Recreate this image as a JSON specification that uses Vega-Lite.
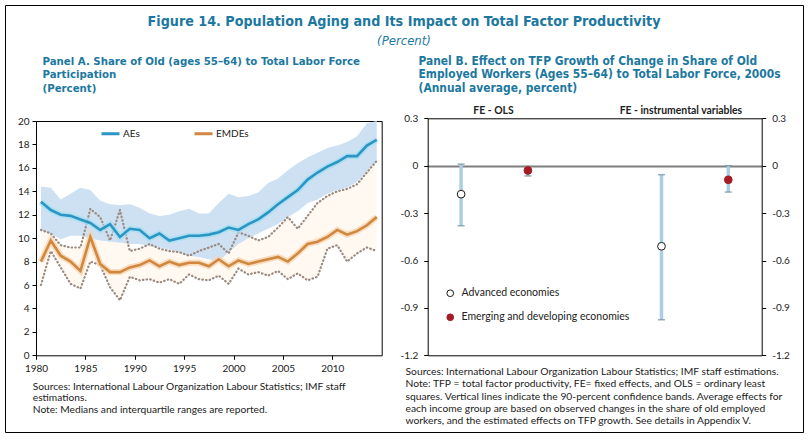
{
  "$schema": "https://vega.github.io/schema/vega-lite/v6.json",
  "width": 798,
  "height": 427,
  "autosize": {"type": "none"},
  "padding": {"left": 5, "top": 5, "right": 6, "bottom": 9},
  "background": "white",
  "config": {
    "view": {"stroke": "#000000", "strokeWidth": 1},
    "axis": {"labelFont": "Lato", "titleFont": "Lato"},
    "legend": {"labelFont": "Lato"}
  },
  "title": {
    "text": "Figure 14. Population Aging and Its Impact on Total Factor Productivity",
    "subtitle": "(Percent)",
    "anchor": "middle",
    "frame": "group",
    "offset": -42.5,
    "font": "DejaVu Sans Condensed, Roboto, sans-serif",
    "fontSize": 14.2,
    "fontWeight": "bold",
    "color": "#1c789f",
    "subtitleFont": "DejaVu Sans Condensed, Roboto, sans-serif",
    "subtitleFontSize": 13,
    "subtitleFontStyle": "italic",
    "subtitleColor": "#1c789f",
    "subtitlePadding": 5.5
  },
  "datasets": {
    "panelA": [
      {"year": 1980, "AEs": 13.1, "AE_p25": 10.7, "AE_p75": 14.4, "EMDEs": 8.0, "EM_p25": 6.0, "EM_p75": 10.7},
      {"year": 1981, "AEs": 12.4, "AE_p25": 10.4, "AE_p75": 14.3, "EMDEs": 9.8, "EM_p25": 8.9, "EM_p75": 10.4},
      {"year": 1982, "AEs": 12.0, "AE_p25": 9.9, "AE_p75": 13.3, "EMDEs": 8.5, "EM_p25": 7.5, "EM_p75": 9.4},
      {"year": 1983, "AEs": 11.9, "AE_p25": 10.2, "AE_p75": 13.8, "EMDEs": 8.0, "EM_p25": 6.1, "EM_p75": 9.2},
      {"year": 1984, "AEs": 11.6, "AE_p25": 10.2, "AE_p75": 14.3, "EMDEs": 7.2, "EM_p25": 5.7, "EM_p75": 9.2},
      {"year": 1985, "AEs": 11.3, "AE_p25": 10.0, "AE_p75": 14.1, "EMDEs": 10.1, "EM_p25": 8.0, "EM_p75": 12.5},
      {"year": 1986, "AEs": 10.7, "AE_p25": 9.8, "AE_p75": 13.2, "EMDEs": 7.8, "EM_p25": 7.7, "EM_p75": 11.8},
      {"year": 1987, "AEs": 11.2, "AE_p25": 9.7, "AE_p75": 12.9, "EMDEs": 7.1, "EM_p25": 5.8, "EM_p75": 9.8},
      {"year": 1988, "AEs": 10.1, "AE_p25": 9.6, "AE_p75": 12.8, "EMDEs": 7.1, "EM_p25": 4.7, "EM_p75": 12.4},
      {"year": 1989, "AEs": 10.8, "AE_p25": 9.5, "AE_p75": 12.9, "EMDEs": 7.5, "EM_p25": 6.7, "EM_p75": 8.9},
      {"year": 1990, "AEs": 10.7, "AE_p25": 9.5, "AE_p75": 12.6, "EMDEs": 7.7, "EM_p25": 6.4, "EM_p75": 9.1},
      {"year": 1991, "AEs": 10.0, "AE_p25": 9.3, "AE_p75": 12.1, "EMDEs": 8.1, "EM_p25": 6.5, "EM_p75": 9.5},
      {"year": 1992, "AEs": 10.4, "AE_p25": 9.2, "AE_p75": 11.9, "EMDEs": 7.6, "EM_p25": 6.2, "EM_p75": 9.1},
      {"year": 1993, "AEs": 9.8, "AE_p25": 9.0, "AE_p75": 12.0, "EMDEs": 8.0, "EM_p25": 6.5, "EM_p75": 8.9},
      {"year": 1994, "AEs": 10.0, "AE_p25": 8.8, "AE_p75": 12.3, "EMDEs": 7.7, "EM_p25": 6.1, "EM_p75": 8.8},
      {"year": 1995, "AEs": 10.2, "AE_p25": 8.5, "AE_p75": 12.5, "EMDEs": 7.9, "EM_p25": 6.9, "EM_p75": 8.5},
      {"year": 1996, "AEs": 10.2, "AE_p25": 8.4, "AE_p75": 12.1, "EMDEs": 7.9, "EM_p25": 6.5, "EM_p75": 8.9},
      {"year": 1997, "AEs": 10.3, "AE_p25": 8.2, "AE_p75": 12.1, "EMDEs": 7.6, "EM_p25": 6.4, "EM_p75": 9.2},
      {"year": 1998, "AEs": 10.5, "AE_p25": 8.0, "AE_p75": 13.0, "EMDEs": 8.2, "EM_p25": 6.8, "EM_p75": 9.5},
      {"year": 1999, "AEs": 10.9, "AE_p25": 8.8, "AE_p75": 13.8, "EMDEs": 7.6, "EM_p25": 6.1, "EM_p75": 8.7},
      {"year": 2000, "AEs": 10.7, "AE_p25": 9.5, "AE_p75": 13.5, "EMDEs": 8.1, "EM_p25": 7.4, "EM_p75": 10.5},
      {"year": 2001, "AEs": 11.2, "AE_p25": 10.0, "AE_p75": 13.6, "EMDEs": 7.8, "EM_p25": 6.9, "EM_p75": 10.2},
      {"year": 2002, "AEs": 11.6, "AE_p25": 10.4, "AE_p75": 13.9, "EMDEs": 8.0, "EM_p25": 7.1, "EM_p75": 9.8},
      {"year": 2003, "AEs": 12.2, "AE_p25": 10.8, "AE_p75": 14.7, "EMDEs": 8.2, "EM_p25": 6.8, "EM_p75": 10.1},
      {"year": 2004, "AEs": 12.9, "AE_p25": 11.2, "AE_p75": 15.1, "EMDEs": 8.4, "EM_p25": 7.2, "EM_p75": 10.9},
      {"year": 2005, "AEs": 13.5, "AE_p25": 11.8, "AE_p75": 15.8, "EMDEs": 8.0, "EM_p25": 6.5, "EM_p75": 11.8},
      {"year": 2006, "AEs": 14.1, "AE_p25": 12.3, "AE_p75": 16.4, "EMDEs": 8.7, "EM_p25": 7.0, "EM_p75": 10.8},
      {"year": 2007, "AEs": 15.0, "AE_p25": 13.0, "AE_p75": 16.9, "EMDEs": 9.5, "EM_p25": 6.4, "EM_p75": 11.9},
      {"year": 2008, "AEs": 15.6, "AE_p25": 13.3, "AE_p75": 17.3, "EMDEs": 9.7, "EM_p25": 6.7, "EM_p75": 13.0},
      {"year": 2009, "AEs": 16.1, "AE_p25": 13.8, "AE_p75": 17.7, "EMDEs": 10.1, "EM_p25": 9.1, "EM_p75": 13.6},
      {"year": 2010, "AEs": 16.5, "AE_p25": 14.1, "AE_p75": 17.9, "EMDEs": 10.7, "EM_p25": 9.4, "EM_p75": 14.0},
      {"year": 2011, "AEs": 17.0, "AE_p25": 14.3, "AE_p75": 18.2, "EMDEs": 10.3, "EM_p25": 8.0, "EM_p75": 14.2},
      {"year": 2012, "AEs": 17.0, "AE_p25": 14.8, "AE_p75": 18.7, "EMDEs": 10.6, "EM_p25": 8.7, "EM_p75": 14.6},
      {"year": 2013, "AEs": 17.9, "AE_p25": 15.7, "AE_p75": 19.8, "EMDEs": 11.1, "EM_p25": 9.2, "EM_p75": 15.6},
      {"year": 2014, "AEs": 18.4, "AE_p25": 16.6, "AE_p75": 20.0, "EMDEs": 11.8, "EM_p25": 8.9, "EM_p75": 16.6}
    ],
    "panelB": [
      {"method": "FE - OLS", "group": "Advanced economies", "estimate": -0.18, "lo": -0.38, "hi": 0.01},
      {"method": "FE - OLS", "group": "Emerging and developing economies", "estimate": -0.03, "lo": -0.065, "hi": -0.005},
      {"method": "FE - instrumental variables", "group": "Advanced economies", "estimate": -0.51, "lo": -0.975, "hi": -0.057},
      {"method": "FE - instrumental variables", "group": "Emerging and developing economies", "estimate": -0.089, "lo": -0.167, "hi": 0.0}
    ]
  },
  "resolve": {
    "scale": {"x": "independent", "y": "independent", "stroke": "independent", "fill": "independent"},
    "axis": {"x": "independent", "y": "independent"},
    "legend": {"stroke": "independent", "fill": "independent"}
  },
  "layer": [
    {
      "data": {"name": "panelA"},
      "resolve": {"axis": {"x": "independent", "y": "independent"}},
      "layer": [
        {
          "mark": {"type": "area", "color": "#fff9f2"},
          "encoding": {
            "x": {
              "field": "year", "type": "quantitative",
              "scale": {"domain": [1979.5, 2014.5], "range": [31, 376.7], "nice": false, "zero": false},
              "axis": {
                "orient": "bottom", "offset": -76.7,
                "values": [1980, 1985, 1990, 1995, 2000, 2005, 2010],
                "format": "d", "tickOffset": -4.94, "tickSize": 4, "tickColor": "#000000",
                "domain": true, "domainColor": "#000000", "grid": false,
                "labelFontSize": 10, "labelColor": "#222222", "labelPadding": 4,
                "title": ["Sources: International Labour Organization Labour Statistics; IMF staff", "estimations.", "Note: Medians and interquartile ranges are reported."],
                "titleX": 27.3, "titleY": 33.7, "titleAngle": 0, "titleAlign": "left", "titleBaseline": "alphabetic",
                "titleFontSize": 10.2, "titleFontWeight": "normal", "titleColor": "#222222", "titleLineHeight": 11.7
              }
            },
            "y": {
              "field": "EM_p25", "type": "quantitative",
              "scale": {"domain": [0, 20], "range": [350.3, 116], "nice": false, "zero": false},
              "axis": {
                "orient": "left", "offset": -31,
                "values": [0, 2, 4, 6, 8, 10, 12, 14, 16, 18, 20],
                "tickSize": 4, "tickColor": "#000000", "domain": true, "domainColor": "#000000", "grid": false,
                "labelFontSize": 10, "labelColor": "#222222", "labelPadding": 3,
                "title": ["Panel A. Share of Old (ages 55–64) to Total Labor Force", "Participation", "(Percent)"],
                "titleX": 6, "titleY": 59.3, "titleAngle": 0, "titleAlign": "left", "titleBaseline": "alphabetic",
                "titleFont": "DejaVu Sans Condensed, Roboto, sans-serif",
                "titleFontSize": 11.35, "titleFontWeight": "bold", "titleColor": "#1c789f", "titleLineHeight": 13.7
              }
            },
            "y2": {"field": "EM_p75"}
          }
        },
        {
          "mark": {"type": "area", "color": "#cde1f2"},
          "encoding": {
            "x": {
              "field": "year", "type": "quantitative",
              "axis": {"orient": "top", "offset": -116, "domain": true, "domainColor": "#000000", "ticks": false, "labels": false, "grid": false, "title": null}
            },
            "y": {
              "field": "AE_p25", "type": "quantitative",
              "axis": {"orient": "right", "offset": -421.3, "domain": true, "domainColor": "#000000", "ticks": false, "labels": false, "grid": false, "title": null}
            },
            "y2": {"field": "AE_p75"}
          }
        },
        {
          "transform": [{"fold": ["EM_p25", "EM_p75"], "as": ["quartile", "pctval"]}],
          "mark": {"type": "line", "color": "#9c8a80", "strokeWidth": 2.2, "strokeDash": [0.5, 3.2], "strokeCap": "round"},
          "encoding": {
            "x": {"field": "year", "type": "quantitative", "axis": null},
            "y": {"field": "pctval", "type": "quantitative", "axis": null},
            "detail": {"field": "quartile", "type": "nominal"}
          }
        },
        {
          "mark": {"type": "line", "color": "#a7def3", "strokeWidth": 6, "opacity": 0.8},
          "encoding": {
            "x": {"field": "year", "type": "quantitative", "axis": null},
            "y": {"field": "AEs", "type": "quantitative", "axis": null}
          }
        },
        {
          "mark": {"type": "line", "color": "#f8d5af", "strokeWidth": 6, "opacity": 0.8},
          "encoding": {
            "x": {"field": "year", "type": "quantitative", "axis": null},
            "y": {"field": "EMDEs", "type": "quantitative", "axis": null}
          }
        },
        {
          "transform": [{"fold": ["AEs", "EMDEs"], "as": ["series", "share"]}],
          "mark": {"type": "line", "strokeWidth": 2.6},
          "encoding": {
            "x": {"field": "year", "type": "quantitative", "axis": null},
            "y": {"field": "share", "type": "quantitative", "axis": null},
            "stroke": {
              "field": "series", "type": "nominal",
              "scale": {"domain": ["AEs", "EMDEs"], "range": ["#2b96c4", "#d0873f"]},
              "legend": {
                "orient": "none", "legendX": 95, "legendY": 118, "direction": "horizontal", "title": null,
                "symbolType": "stroke", "symbolStrokeWidth": 3, "symbolSize": 324,
                "labelFontSize": 10, "labelColor": "#222222", "labelOffset": 2, "columnPadding": 48
              }
            }
          }
        }
      ]
    },
    {
      "data": {"name": "panelB"},
      "resolve": {"axis": {"x": "independent", "y": "independent"}},
      "layer": [
        {
          "mark": {"type": "rule", "color": "#a9cfe1", "strokeWidth": 3.5},
          "encoding": {
            "x": {
              "field": "method", "type": "nominal",
              "scale": {"domain": ["FE - OLS", "FE - instrumental variables"], "range": [422.7, 756.7], "paddingInner": 0.3333, "paddingOuter": 0},
              "axis": {
                "orient": "bottom", "offset": -76.7, "domain": true, "domainColor": "#000000", "domainWidth": 1,
                "ticks": false, "labels": false, "grid": false,
                "title": ["Sources: International Labour Organization Labour Statistics; IMF staff estimations.", "Note: TFP = total factor productivity, FE= fixed effects, and OLS = ordinary least", "squares. Vertical lines indicate the 90-percent confidence bands. Average effects for", "each income group are based on observed changes in the share of old employed", "workers, and the estimated effects on TFP growth. See details in Appendix V."],
                "titleX": 400, "titleY": 19.4, "titleAngle": 0, "titleAlign": "left", "titleBaseline": "alphabetic",
                "titleFontSize": 10.3, "titleFontWeight": "normal", "titleColor": "#222222", "titleLineHeight": 12.3
              }
            },
            "xOffset": {
              "field": "group", "type": "nominal",
              "scale": {"domain": ["Advanced economies", "Emerging and developing economies"], "paddingInner": 0, "paddingOuter": 0}
            },
            "y": {
              "field": "lo", "type": "quantitative",
              "scale": {"domain": [-1.2, 0.3], "range": [350.3, 113.3], "nice": false, "zero": false},
              "axis": {
                "orient": "left", "offset": -422.7,
                "values": [-1.2, -0.9, -0.6, -0.3, 0, 0.3],
                "labelExpr": "datum.value == 0 ? '0' : (datum.value < 0 ? '-' + format(-datum.value, '.1f') : format(datum.value, '.1f'))",
                "tickSize": 4, "tickColor": "#000000", "domain": true, "domainColor": "#000000",
                "grid": true,
                "gridColor": {"condition": {"test": "datum.value == 0", "value": "#7f7f7f"}, "value": "transparent"},
                "gridWidth": 1.8,
                "labelFontSize": 10, "labelColor": "#222222", "labelPadding": 6,
                "title": ["Panel B. Effect on TFP Growth of Change in Share of Old", "Employed Workers (Ages 55–64) to Total Labor Force, 2000s", "(Annual average, percent)"],
                "titleX": -9.7, "titleY": 59.3, "titleAngle": 0, "titleAlign": "left", "titleBaseline": "alphabetic",
                "titleFont": "DejaVu Sans Condensed, Roboto, sans-serif",
                "titleFontSize": 11.9, "titleFontWeight": "bold", "titleColor": "#1c789f", "titleLineHeight": 13.7
              }
            },
            "y2": {"field": "hi"}
          }
        },
        {
          "transform": [{"fold": ["lo", "hi"], "as": ["bound", "limit"]}],
          "mark": {"type": "tick", "orient": "horizontal", "size": 7, "thickness": 1.5, "color": "#6f8f9e"},
          "encoding": {
            "x": {
              "field": "method", "type": "nominal",
              "axis": {
                "orient": "top", "offset": -113.3, "domain": true, "domainColor": "#000000", "domainWidth": 1,
                "ticks": false, "grid": false, "labelAngle": 0,
                "labelFont": "Lato", "labelFontWeight": "bold", "labelFontSize": 10.4, "labelColor": "#222222", "labelPadding": 3,
                "labelOffset": {"condition": {"test": "datum.value == 'FE - instrumental variables'", "value": -14}, "value": -1},
                "title": null
              }
            },
            "xOffset": {"field": "group", "type": "nominal"},
            "y": {
              "field": "limit", "type": "quantitative",
              "axis": {
                "orient": "right", "offset": -41.3,
                "values": [-1.2, -0.9, -0.6, -0.3, 0, 0.3],
                "labelExpr": "datum.value == 0 ? '0' : (datum.value < 0 ? '-' + format(-datum.value, '.1f') : format(datum.value, '.1f'))",
                "tickSize": 4, "tickColor": "#000000", "domain": true, "domainColor": "#000000", "grid": false,
                "labelFontSize": 10, "labelColor": "#222222", "labelPadding": 6, "title": null
              }
            }
          }
        },
        {
          "mark": {"type": "point", "shape": "circle", "size": 60, "strokeWidth": 1, "opacity": 1, "fillOpacity": 1},
          "encoding": {
            "x": {"field": "method", "type": "nominal", "axis": null},
            "xOffset": {"field": "group", "type": "nominal"},
            "y": {"field": "estimate", "type": "quantitative", "axis": null},
            "fill": {
              "field": "group", "type": "nominal",
              "scale": {"domain": ["Advanced economies", "Emerging and developing economies"], "range": ["#ffffff", "#a51c24"]},
              "legend": {
                "orient": "none", "legendX": 440, "legendY": 283, "title": null,
                "symbolSize": 45, "symbolStrokeWidth": 1, "labelFontSize": 10.5, "labelColor": "#222222",
                "labelOffset": 6, "rowPadding": 12, "labelLimit": 300
              }
            },
            "stroke": {
              "field": "group", "type": "nominal",
              "scale": {"domain": ["Advanced economies", "Emerging and developing economies"], "range": ["#1a1a1a", "#a51c24"]},
              "legend": {
                "orient": "none", "legendX": 440, "legendY": 283, "title": null,
                "symbolSize": 45, "symbolStrokeWidth": 1, "labelFontSize": 10.5, "labelColor": "#222222",
                "labelOffset": 6, "rowPadding": 12, "labelLimit": 300
              }
            }
          }
        }
      ]
    }
  ]
}
